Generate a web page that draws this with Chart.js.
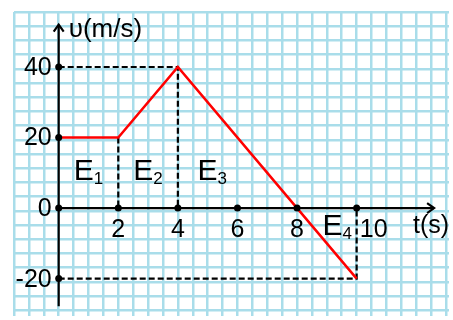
<!DOCTYPE html>
<html>
<head>
<meta charset="utf-8">
<script src="https://cdn.jsdelivr.net/npm/chart.js@4/dist/chart.umd.min.js"></script>
<style>
  body { margin: 0; background: #fff; }
  canvas { display: block; }
</style>
</head>
<body>
<canvas id="chart" width="453" height="320"></canvas>
<script>
// velocity-time graph
const times = [0, 2, 4, 8, 10];
const speeds = [20, 20, 40, 0, -20];

const xTickValues = [2, 4, 6, 8, 10];
const yTickValues = [40, 20, 0, -20];

// dashed helper lines
const guideT40 = [0, 4, 4];
const guideV40 = [40, 40, 0];
const guideT20 = [2, 2];
const guideV20 = [20, 0];
const guideTNeg = [0, 10, 10];
const guideVNeg = [-20, -20, 0];

// axis extents (data units)
const tAxisEnd = 12.6;
const vAxisTop = 52;
const vAxisBottom = -27.8;

// area labels E1..E4
const regionNames = ["1", "2", "3", "4"];
const regionT = [1, 3, 5.15, 9.35];
const regionV = [8, 8, 8, -7.7];

const gridColor = "#a9ddea";
const font = "'Liberation Sans', Arial, sans-serif";

const pts = (xs, ys) => xs.map((x, i) => ({ x: x, y: ys[i] }));

const lineSet = (data, color, width, dash) => ({
  data: data,
  borderColor: color,
  borderWidth: width,
  borderDash: dash || [],
  pointRadius: 0,
  fill: false,
  tension: 0
});

const dots = pts(xTickValues, xTickValues.map(() => 0))
  .concat(pts(yTickValues.map(() => 0), yTickValues));

const annotate = {
  id: "annotate",
  afterDatasetsDraw(chart) {
    const { ctx, scales: { x, y } } = chart;
    ctx.save();
    ctx.fillStyle = "#000";
    ctx.strokeStyle = "#000";
    ctx.lineWidth = 2.2;

    // arrow heads
    const ax = x.getPixelForValue(tAxisEnd), ay = y.getPixelForValue(0);
    ctx.beginPath();
    ctx.moveTo(ax - 7, ay - 5);
    ctx.lineTo(ax, ay);
    ctx.lineTo(ax - 7, ay + 5);
    ctx.stroke();
    const bx = x.getPixelForValue(0), by = y.getPixelForValue(vAxisTop);
    ctx.beginPath();
    ctx.moveTo(bx - 5, by + 7);
    ctx.lineTo(bx, by);
    ctx.lineTo(bx + 5, by + 7);
    ctx.stroke();

    // tick labels
    ctx.font = "25px " + font;
    ctx.textBaseline = "middle";
    ctx.textAlign = "right";
    yTickValues.forEach(v => {
      ctx.fillText(String(v), bx - 7, y.getPixelForValue(v) + 1);
    });
    ctx.textAlign = "center";
    xTickValues.forEach((t, i) => {
      const shift = i === xTickValues.length - 1 ? 17 : 0;
      ctx.fillText(String(t), x.getPixelForValue(t) + shift, ay + 22);
    });

    // axis titles
    ctx.textAlign = "left";
    ctx.fillText("t(s)", ax - 21, ay + 18);
    ctx.font = "26px " + font;
    ctx.fillText("υ(m/s)", bx + 10, by + 5);

    // E labels
    ctx.textBaseline = "alphabetic";
    regionNames.forEach((n, i) => {
      const cx = x.getPixelForValue(regionT[i]);
      const cy = y.getPixelForValue(regionV[i]);
      ctx.font = "30px " + font;
      const w1 = ctx.measureText("E").width;
      ctx.font = "17px " + font;
      const w2 = ctx.measureText(n).width;
      const left = cx - (w1 + w2) / 2;
      ctx.font = "30px " + font;
      ctx.fillText("E", left, cy);
      ctx.font = "17px " + font;
      ctx.fillText(n, left + w1, cy + 4);
    });
    ctx.restore();
  }
};

new Chart(document.getElementById("chart"), {
  type: "line",
  data: {
    datasets: [
      {
        data: dots,
        showLine: false,
        pointRadius: 3.5,
        pointBackgroundColor: "#000",
        pointBorderWidth: 0
      },
      lineSet(pts(times, speeds), "#ff0000", 2.5),
      lineSet(pts([0, tAxisEnd], [0, 0]), "#000", 2.2),
      lineSet(pts([0, 0], [vAxisBottom, vAxisTop]), "#000", 2.2),
      lineSet(pts(guideT40, guideV40), "#000", 2.2, [6, 3]),
      lineSet(pts(guideT20, guideV20), "#000", 2.2, [6, 3]),
      lineSet(pts(guideTNeg, guideVNeg), "#000", 2.2, [6, 3])
    ]
  },
  options: {
    responsive: false,
    animation: false,
    devicePixelRatio: 1,
    layout: { padding: { left: 14, top: 12, right: 0, bottom: 0 } },
    plugins: { legend: { display: false }, tooltip: { enabled: false } },
    scales: {
      x: {
        type: "linear",
        min: -1.5,
        max: 13.1,
        ticks: { display: false, stepSize: 0.5, includeBounds: false },
        grid: { color: gridColor, lineWidth: 2.5, drawTicks: false },
        border: { display: false }
      },
      y: {
        type: "linear",
        display: false,
        min: -30.6,
        max: 55.6
      },
      yGrid: {
        type: "linear",
        position: "right",
        reverse: true,
        min: 0,
        max: 21.4,
        ticks: { display: false, stepSize: 1, includeBounds: false },
        grid: { color: gridColor, lineWidth: 2.5, drawTicks: false },
        border: { display: false }
      }
    }
  },
  plugins: [annotate]
});
</script>
</body>
</html>
